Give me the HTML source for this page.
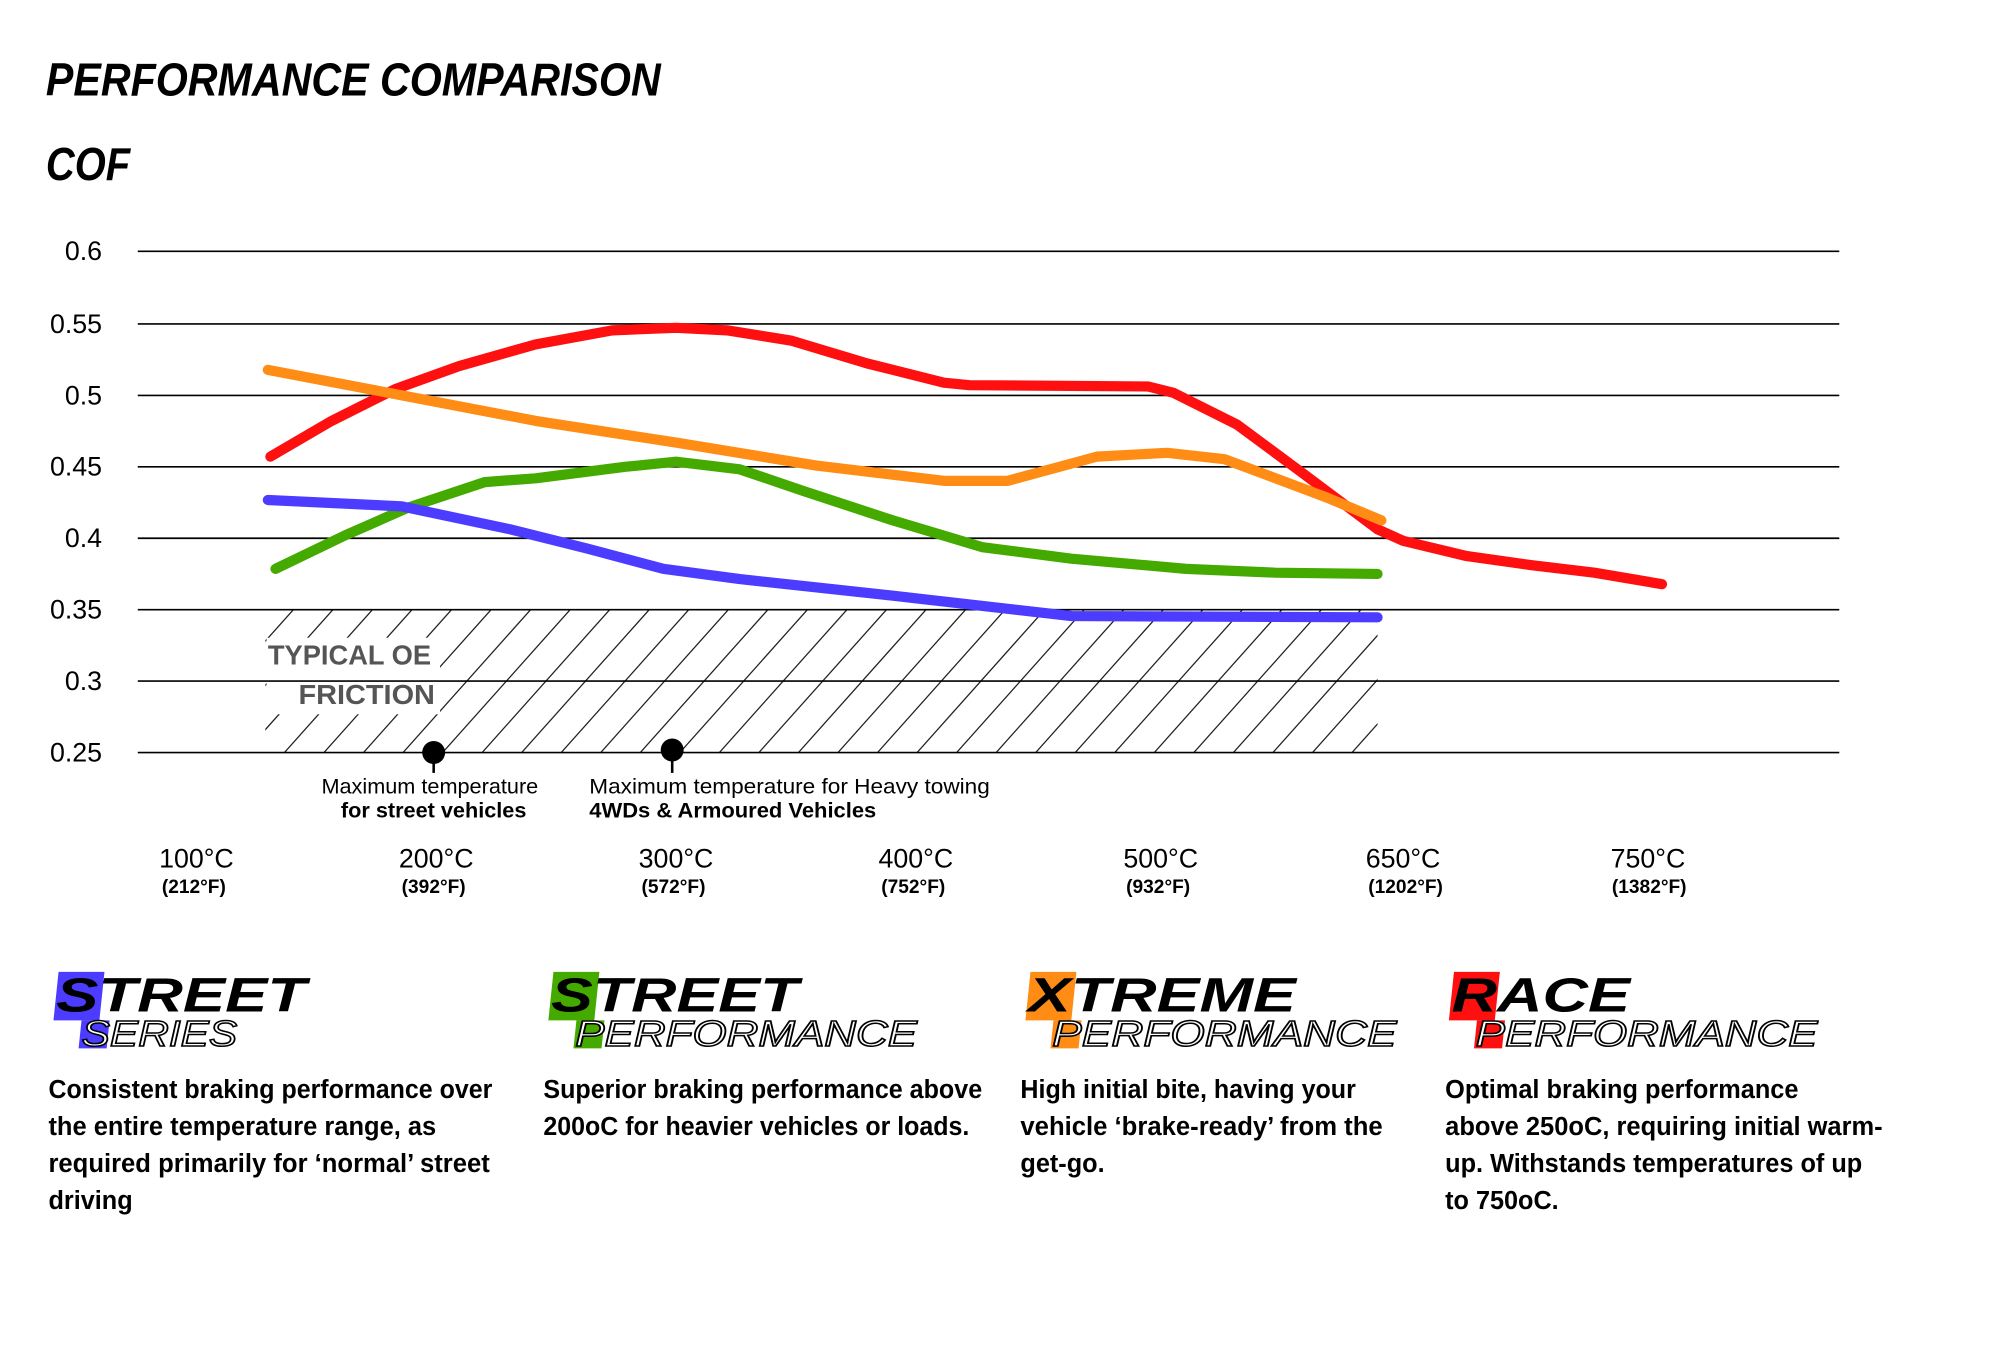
<!DOCTYPE html>
<html><head><meta charset="utf-8"><style>
html,body{margin:0;padding:0;background:#fff;}
svg{display:block;}
text{font-family:"Liberation Sans",sans-serif;}
</style></head><body>
<svg width="2000" height="1346" viewBox="0 0 1568 1055.3" preserveAspectRatio="none" xmlns="http://www.w3.org/2000/svg">
<defs>
<clipPath id="hc"><rect x="208" y="478" width="872" height="112"/></clipPath>
</defs>
<rect width="1568" height="1056" fill="#fff"/>
<text x="36" y="75" font-size="36" font-weight="bold" font-style="italic" textLength="482" lengthAdjust="spacingAndGlyphs">PERFORMANCE COMPARISON</text>
<text x="36" y="141" font-size="36" font-weight="bold" font-style="italic" textLength="66" lengthAdjust="spacingAndGlyphs">COF</text>

<g clip-path="url(#hc)" stroke="#222" stroke-width="1">
<path d="M130 590L230 478 M161 590L261 478 M192 590L292 478 M223 590L323 478 M254 590L354 478 M285 590L385 478 M316 590L416 478 M347 590L447 478 M378 590L478 478 M409 590L509 478 M440 590L540 478 M471 590L571 478 M502 590L602 478 M533 590L633 478 M564 590L664 478 M595 590L695 478 M626 590L726 478 M657 590L757 478 M688 590L788 478 M719 590L819 478 M750 590L850 478 M781 590L881 478 M812 590L912 478 M843 590L943 478 M874 590L974 478 M905 590L1005 478 M936 590L1036 478 M967 590L1067 478 M998 590L1098 478 M1029 590L1129 478 M1060 590L1160 478 M1091 590L1191 478"/>
</g>
<rect x="209" y="500" width="136" height="60" fill="#fff"/>
<text x="210" y="521" font-size="22" font-weight="bold" fill="#555" textLength="128" lengthAdjust="spacingAndGlyphs">TYPICAL OE</text>
<text x="234" y="552" font-size="22" font-weight="bold" fill="#555" textLength="107" lengthAdjust="spacingAndGlyphs">FRICTION</text>

<g stroke="#000" stroke-width="1.3">
<line x1="108" y1="197" x2="1442" y2="197"/><line x1="108" y1="254" x2="1442" y2="254"/>
<line x1="108" y1="310" x2="1442" y2="310"/><line x1="108" y1="366" x2="1442" y2="366"/>
<line x1="108" y1="422" x2="1442" y2="422"/><line x1="108" y1="478" x2="1442" y2="478"/>
<line x1="108" y1="534" x2="1442" y2="534"/><line x1="108" y1="590" x2="1442" y2="590"/>
</g>
<g font-size="21" text-anchor="end">
<text x="80" y="204">0.6</text><text x="80" y="261">0.55</text><text x="80" y="317">0.5</text>
<text x="80" y="373">0.45</text><text x="80" y="429">0.4</text><text x="80" y="485">0.35</text>
<text x="80" y="541">0.3</text><text x="80" y="597">0.25</text>
</g>

<g fill="none" stroke-width="8" stroke-linecap="round" stroke-linejoin="round">
<polyline stroke="#ff1010" points="212,358 260,330 310,305 360,287 420,270 480,259 530,257 570,259 620,267 680,285 740,300 760,302 900,303 920,308 970,333 1020,370 1080,415 1100,424 1150,436 1200,443 1250,449 1303,458"/>
<polyline stroke="#ff8c14" points="210,290 310,309 420,330 530,347 640,365 740,377 790,377 860,358 915,355 960,360 1040,390 1083,408"/>
<polyline stroke="#44aa00" points="216,446 270,420 320,398 380,378 420,375 490,366 530,362 580,368 630,385 700,408 770,429 840,438 930,446 1000,449 1080,450"/>
<polyline stroke="#4b3cff" points="210,392 315,397 400,415 460,430 520,446 580,454 700,467 840,483 1080,484"/>
</g>

<circle cx="340" cy="590" r="9"/><line x1="340" y1="590" x2="340" y2="606" stroke="#000" stroke-width="2"/>
<circle cx="527" cy="588" r="9"/><line x1="527" y1="588" x2="527" y2="606" stroke="#000" stroke-width="2"/>
<text x="337" y="622" font-size="17" text-anchor="middle">Maximum temperature</text>
<text x="340" y="641" font-size="17" font-weight="bold" text-anchor="middle">for street vehicles</text>
<text x="462" y="622" font-size="17" textLength="314" lengthAdjust="spacingAndGlyphs">Maximum temperature for Heavy towing</text>
<text x="462" y="641" font-size="17" font-weight="bold" textLength="225" lengthAdjust="spacingAndGlyphs">4WDs &amp; Armoured Vehicles</text>

<g text-anchor="middle">
<g font-size="21">
<text x="154" y="680">100°C</text><text x="342" y="680">200°C</text><text x="530" y="680">300°C</text>
<text x="718" y="680">400°C</text><text x="910" y="680">500°C</text><text x="1100" y="680">650°C</text><text x="1292" y="680">750°C</text>
</g>
<g font-size="15" font-weight="bold">
<text x="152" y="700">(212°F)</text><text x="340" y="700">(392°F)</text><text x="528" y="700">(572°F)</text>
<text x="716" y="700">(752°F)</text><text x="908" y="700">(932°F)</text><text x="1102" y="700">(1202°F)</text><text x="1293" y="700">(1382°F)</text>
</g>
</g>

<g font-style="italic">
<rect x="44" y="762" width="36" height="38" fill="#4b3cff" transform="skewX(-6) translate(82 0)"/>
<rect x="64" y="800" width="22" height="22" fill="#4b3cff" transform="skewX(-6) translate(84 0)"/>
<text x="44" y="793" font-size="38" font-weight="bold" textLength="196" lengthAdjust="spacingAndGlyphs">STREET</text>
<text x="64" y="820" font-size="28" fill="#fff" stroke="#000" stroke-width="1.2" textLength="122" lengthAdjust="spacingAndGlyphs">SERIES</text>

<rect x="432" y="762" width="36" height="38" fill="#44aa00" transform="skewX(-6) translate(82 0)"/>
<rect x="452" y="800" width="22" height="22" fill="#44aa00" transform="skewX(-6) translate(84 0)"/>
<text x="432" y="793" font-size="38" font-weight="bold" textLength="194" lengthAdjust="spacingAndGlyphs">STREET</text>
<text x="451" y="820" font-size="28" fill="#fff" stroke="#000" stroke-width="1.2" textLength="268" lengthAdjust="spacingAndGlyphs">PERFORMANCE</text>

<rect x="806" y="762" width="36" height="38" fill="#ff8c14" transform="skewX(-6) translate(82 0)"/>
<rect x="826" y="800" width="22" height="22" fill="#ff8c14" transform="skewX(-6) translate(84 0)"/>
<text x="806" y="793" font-size="38" font-weight="bold" textLength="210" lengthAdjust="spacingAndGlyphs">XTREME</text>
<text x="825" y="820" font-size="28" fill="#fff" stroke="#000" stroke-width="1.2" textLength="270" lengthAdjust="spacingAndGlyphs">PERFORMANCE</text>

<rect x="1138" y="762" width="36" height="38" fill="#ff1010" transform="skewX(-6) translate(82 0)"/>
<rect x="1158" y="800" width="22" height="22" fill="#ff1010" transform="skewX(-6) translate(84 0)"/>
<text x="1138" y="793" font-size="38" font-weight="bold" textLength="140" lengthAdjust="spacingAndGlyphs">RACE</text>
<text x="1157" y="820" font-size="28" fill="#fff" stroke="#000" stroke-width="1.2" textLength="268" lengthAdjust="spacingAndGlyphs">PERFORMANCE</text>
</g>

<g font-size="20" font-weight="bold">
<text x="38" y="861" textLength="348" lengthAdjust="spacingAndGlyphs">Consistent braking performance over</text>
<text x="38" y="890" textLength="304" lengthAdjust="spacingAndGlyphs">the entire temperature range, as</text>
<text x="38" y="919" textLength="346" lengthAdjust="spacingAndGlyphs">required primarily for ‘normal’ street</text>
<text x="38" y="948" textLength="66" lengthAdjust="spacingAndGlyphs">driving</text>
<text x="426" y="861" textLength="344" lengthAdjust="spacingAndGlyphs">Superior braking performance above</text>
<text x="426" y="890" textLength="334" lengthAdjust="spacingAndGlyphs">200oC for heavier vehicles or loads.</text>
<text x="800" y="861" textLength="263" lengthAdjust="spacingAndGlyphs">High initial bite, having your</text>
<text x="800" y="890" textLength="284" lengthAdjust="spacingAndGlyphs">vehicle ‘brake-ready’ from the</text>
<text x="800" y="919" textLength="66" lengthAdjust="spacingAndGlyphs">get-go.</text>
<text x="1133" y="861" textLength="277" lengthAdjust="spacingAndGlyphs">Optimal braking performance</text>
<text x="1133" y="890" textLength="343" lengthAdjust="spacingAndGlyphs">above 250oC, requiring initial warm-</text>
<text x="1133" y="919" textLength="327" lengthAdjust="spacingAndGlyphs">up. Withstands temperatures of up</text>
<text x="1133" y="948" textLength="89" lengthAdjust="spacingAndGlyphs">to 750oC.</text>
</g>
</svg>
</body></html>
